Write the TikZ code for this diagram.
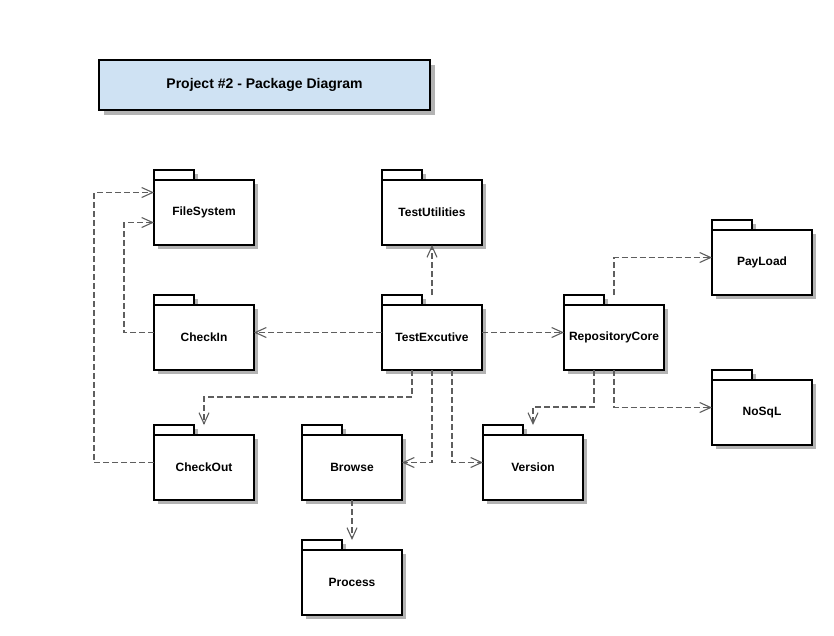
\documentclass[tikz,border=0pt]{standalone}
\usepackage{fontspec}
\setmainfont{Liberation Sans}
\usetikzlibrary{arrows.meta}
\definecolor{titlefill}{HTML}{CFE2F3}
\definecolor{shadowc}{HTML}{B3B3B3}
\definecolor{depc}{HTML}{5E5E5E}
\tikzset{
  pkgline/.style={draw=black, line width=1.8pt},
  pkgbound/.style={draw=none, minimum width=100pt, minimum height=75pt, inner sep=0pt, outer sep=0pt},
  pkgtext/.style={font=\bfseries\fontsize{12}{14}\selectfont, inner sep=0pt},
  titletext/.style={font=\bfseries\fontsize{14}{16}\selectfont, inner sep=0pt},
  dep/.style={draw=depc, line width=1.3pt, dash pattern=on 6pt off 3pt,
    -{Straight Barb[length=11pt,width=10pt,line width=1.1pt]}},
}
\newcommand\pkgdraw[4]{%
  \fill[shadowc] (#2-46,#3-33.5) rectangle (#2-6,#3-27.5);
  \fill[shadowc] (#2-46,#3-23.5) rectangle (#2+54,#3+41.5);
  \draw[pkgline, fill=white] (#2-50,#3-27.5) rectangle (#2+50,#3+37.5);
  \draw[pkgline, fill=white] (#2-50,#3-37.5) rectangle (#2-10,#3-27.5);
  \node[pkgbound] (#1) at (#2,#3) {};
  \node[pkgtext] (#1-t) at (#2,#3+5) {#4};
}
\begin{document}
\begin{tikzpicture}[x=1pt,y=-1pt]
\useasboundingbox (0,0) rectangle (834,635);
% title
\fill[shadowc] (104,65) rectangle (435,115);
\draw[pkgline, fill=titlefill] (99,60) rectangle (430,110);
\node[titletext] (title) at (264.5,85) {Project \#2 - Package Diagram};
% packages
\pkgdraw{fs}{204}{207.5}{FileSystem}
\pkgdraw{tu}{432}{207.5}{TestUtilities}
\pkgdraw{pl}{762}{257.5}{PayLoad}
\pkgdraw{ci}{204}{332.5}{CheckIn}
\pkgdraw{te}{432}{332.5}{TestExcutive}
\pkgdraw{rc}{614}{332.5}{RepositoryCore}
\pkgdraw{ns}{762}{407.5}{NoSqL}
\pkgdraw{co}{204}{462.5}{CheckOut}
\pkgdraw{br}{352}{462.5}{Browse}
\pkgdraw{ve}{533}{462.5}{Version}
\pkgdraw{pr}{352}{577.5}{Process}
% connectors
\draw[dep] (te.north) -- (tu.south);
\draw[dep] (te.west) -- (ci.east);
\draw[dep] (te.east) -- (rc.west);
\draw[dep] (ci.west) -- ++(-30,0) |- ([yshift=-15pt]fs.west);
\draw[dep] (co.west) -- ++(-60,0) |- ([yshift=15pt]fs.west);
\draw[dep] ([xshift=-20pt]te.south) -- ++(0,27) -| (co.north);
\draw[dep] (te.south) |- (br.east);
\draw[dep] ([xshift=20pt]te.south) |- (ve.west);
\draw[dep] ([xshift=-20pt]rc.south) -- ++(0,37) -| (ve.north);
\draw[dep] (rc.south) |- (ns.west);
\draw[dep] (rc.north) |- (pl.west);
\draw[dep] (br.south) -- (pr.north);
\end{tikzpicture}
\end{document}
